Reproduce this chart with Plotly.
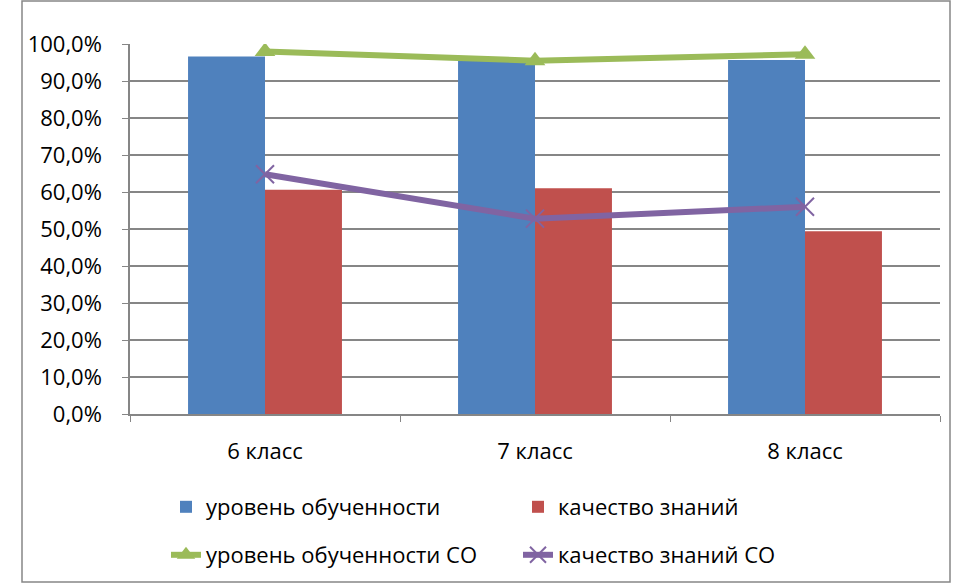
import plotly.graph_objects as go

categories = ["6 класс", "7 класс", "8 класс"]
uroven = [0.966, 0.956, 0.957]
kachestvo = [0.606, 0.610, 0.494]
uroven_so = [0.980, 0.955, 0.972]
kachestvo_so = [0.648, 0.528, 0.560]

FONT = "Open Sans"
FS = 22
W, H = 955, 583
L, R, T, B = 130, 15, 44, 169
pw, ph = W - L - R, H - T - B

fig = go.Figure()
fig.add_trace(go.Bar(x=categories, y=uroven, name="уровень обученности",
                     marker=dict(color="#4F81BD", line=dict(width=0)), legend="legend"))
fig.add_trace(go.Bar(x=categories, y=kachestvo, name="качество знаний",
                     marker=dict(color="#C0504D", line=dict(width=0)), legend="legend"))
fig.add_trace(go.Scatter(x=categories, y=uroven_so, name="уровень обученности СО",
                         mode="lines+markers", line=dict(color="#9BBB59", width=6),
                         marker=dict(symbol="triangle-up", size=18, color="#9BBB59"),
                         legend="legend2"))
fig.add_trace(go.Scatter(x=categories, y=kachestvo_so, name="качество знаний СО",
                         mode="lines+markers", line=dict(color="#8064A2", width=6),
                         marker=dict(symbol="x-thin", size=18, color="#8064A2",
                                     line=dict(color="#8064A2", width=2)),
                         legend="legend2"))

def py(pix):
    return (H - B - pix) / ph

def px(pix):
    return (pix - L) / pw

def cy(pix):
    return 1 - pix / H

fig.update_layout(
    width=W, height=H,
    margin=dict(l=L, r=R, t=T, b=B, autoexpand=False),
    paper_bgcolor="white", plot_bgcolor="white",
    separators=", ",
    font=dict(family=FONT, size=FS, color="#000000"),
    barmode="group", bargap=0.43, bargroupgap=0,
    showlegend=True,
    legend=dict(orientation="h", x=px(166), xanchor="left", yref="container",
                y=cy(486), yanchor="top",
                entrywidth=307, entrywidthmode="pixels", font=dict(size=FS, family=FONT),
                bgcolor="rgba(0,0,0,0)"),
    legend2=dict(orientation="h", x=px(166), xanchor="left", yref="container",
                 y=cy(534), yanchor="top",
                 entrywidth=307, entrywidthmode="pixels", font=dict(size=FS, family=FONT),
                 bgcolor="rgba(0,0,0,0)"),
    xaxis=dict(showline=True, linecolor="#868686", linewidth=1.5, ticks="outside",
               tickson="boundaries", ticklen=6, tickcolor="#868686", showgrid=False,
               automargin=False,
               ticklabelstandoff=17, tickfont=dict(size=FS, family=FONT)),
    yaxis=dict(range=[0, 1], dtick=0.1, tickformat=".1%", showline=True,
               linecolor="#868686", linewidth=1.5, ticks="outside", ticklen=6,
               tickcolor="#868686", showgrid=True, gridcolor="#868686", gridwidth=1.5,
               zeroline=False, automargin=False,
               ticklabelstandoff=16, tickfont=dict(size=FS, family=FONT)),
    shapes=[dict(type="rect", xref="paper", yref="paper",
                 x0=px(22), x1=px(950), y0=py(582), y1=py(1),
                 line=dict(color="#868686", width=1.5), fillcolor="rgba(0,0,0,0)",
                 layer="below")],
)

fig.write_html("out.html", config={"displayModeBar": False},
               post_script="document.body.style.margin='0';")
